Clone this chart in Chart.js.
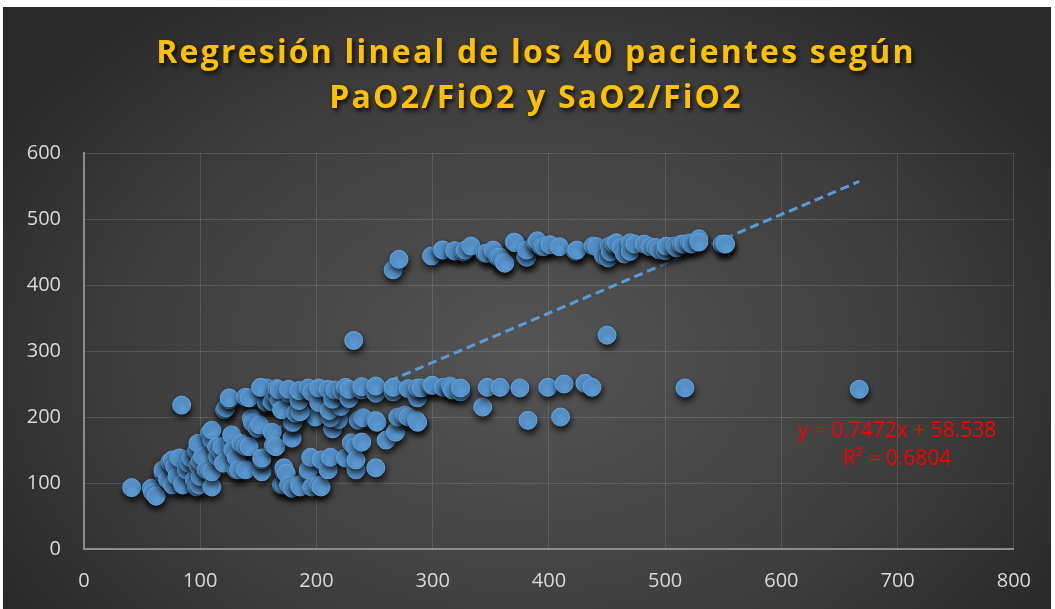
<!DOCTYPE html>
<html>
<head>
<meta charset="utf-8">
<script src="https://cdn.jsdelivr.net/npm/chart.js@4"></script>
<style>
  html, body { margin: 0; padding: 0; background: #ffffff; }
  body { width: 1055px; height: 609px; position: relative; overflow: hidden; }
  #frame {
    position: absolute; left: 3px; top: 7px; width: 1048px; height: 602px;
    background: radial-gradient(ellipse 60% 75% at 50% 58%, #545454 0%, #414141 55%, #292929 100%);
  }
  #chart { position: absolute; left: 0; top: 0; }
  #title {
    position: absolute; left: 0; top: 21px; width: 1048px; text-align: center;
    font-family: "Open Sans", sans-serif; font-weight: 700; font-size: 32px;
    line-height: 45px; letter-spacing: 2.2px; color: #FFC000; padding-left: 18px; box-sizing: border-box;
    text-shadow: 2px 3px 4px rgba(0,0,0,0.75);
  }
  .eq {
    position: absolute; width: 300px; text-align: center; color: #FF0000;
    font-family: "Open Sans", sans-serif; font-size: 21px; line-height: 28px;
  }
</style>
</head>
<body>
<div id="frame">
  <canvas id="chart" width="1048" height="602"></canvas>
  <div id="title">Regresión lineal de los 40 pacientes según<br>PaO2/FiO2 y SaO2/FiO2</div>
  <div class="eq" style="left:744px; top:408px;">y = 0.7472x + 58.538</div>
  <div class="eq" style="left:744px; top:436px;">R² = 0.6804</div>
</div>
<script>
// ---- data ----
const lowGroup = [
  [41,93],[58,92],[59,86],[62,80],[68,115],[68,120],[72,105],[74,132],[76,135],[76,97],[78,125],[80,110],
  [82,138],[85,100],[85,97],[88,120],[90,130],[92,138],[95,105],[97,94],[97,147],[97,150],[98,127],[98,160],
  [99,97],[100,110],[100,133],[102,140],[105,120],[108,117],[108,176],[110,94],[110,117],[110,165],[110,180],
  [114,155],[115,140],[118,148],[119,155],[120,130],[127,161],[127,173],[128,150],[131,120],[131,139],[133,120],
  [135,160],[139,120],[139,155],[142,155],[144,198],[145,191],[149,183],[151,188],[153,117],[153,135],[153,138],
  [162,177],[163,157],[165,155],[170,97],[172,97],[172,117],[172,123],[174,115],[176,97],[179,92],[179,168],
  [179,191],[180,192],[185,97],[186,94],[193,117],[193,120],[195,139],[196,94],[199,200],[202,97],[204,94],
  [204,135],[210,120],[212,139],[214,182],[219,196],[212,199],[225,138],[230,161],[233,155],[234,120],[234,135],
  [236,195],[240,199],[239,162],[251,123],[251,195],[252,192],[260,165],[268,177],[270,200],[276,203],[279,200],
  [286,195],[287,192],[382,195],[410,200]
];
const midGroup = [
  [84,218],[121,211],[122,214],[125,226],[125,229],[139,230],[142,229],[157,221],[157,223],[160,226],[157,244],
  [152,245],[162,223],[165,233],[166,243],[168,226],[168,241],[170,211],[176,236],[176,242],[182,206],[186,208],
  [185,225],[185,240],[193,244],[196,238],[202,222],[202,244],[210,242],[211,210],[221,216],[214,227],[216,241],
  [222,239],[225,245],[228,228],[228,242],[232,316],[239,241],[239,246],[251,236],[251,247],[266,238],[266,245],
  [279,243],[287,229],[287,244],[290,244],[299,248],[300,248],[309,245],[315,247],[316,244],[317,241],[324,238],
  [324,244],[343,215],[347,245],[358,245],[375,244],[399,245],[413,250],[431,251],[437,245],[450,324],[517,244],
  [667,242]
];
const highGroup = [
  [266,423],[271,439],[299,444],[308,453],[309,453],[319,451],[319,452],[327,450],[328,453],[333,459],[345,448],
  [347,448],[352,453],[356,442],[358,442],[361,435],[362,433],[370,465],[371,464],[380,443],[381,442],[381,453],
  [389,464],[390,467],[394,458],[396,458],[401,461],[409,458],[423,451],[424,453],[438,459],[441,458],[447,444],
  [451,441],[452,459],[453,450],[456,462],[458,464],[462,457],[465,447],[470,464],[470,451],[474,462],[482,462],
  [487,458],[492,457],[495,453],[500,452],[501,459],[508,459],[510,456],[514,462],[516,462],[521,464],[523,462],
  [529,470],[529,465],[549,462],[551,462],[552,462]
];
const trendX = [41, 667];
const trendY = [89.2, 556.9];
const xTicks = [0, 100, 200, 300, 400, 500, 600, 700, 800];
const yTicks = [0, 100, 200, 300, 400, 500, 600];

const allPoints = lowGroup.concat(midGroup, highGroup).map(p => ({ x: p[0], y: p[1] }));
const trendPoints = trendX.map((x, i) => ({ x: x, y: trendY[i] }));

const shadowPlugin = {
  id: 'pointShadow',
  beforeDatasetDraw(chart, args) {
    if (args.index === 1) {
      const c = chart.ctx;
      c.save();
      c.shadowColor = 'rgba(0,0,0,0.75)';
      c.shadowBlur = 6;
      c.shadowOffsetX = 1;
      c.shadowOffsetY = 4;
    }
  },
  afterDatasetDraw(chart, args) {
    if (args.index === 1) chart.ctx.restore();
  }
};

new Chart(document.getElementById('chart'), {
  type: 'scatter',
  data: {
    datasets: [
      {
        type: 'line',
        data: trendPoints,
        borderColor: '#5B9BD5',
        borderWidth: 3,
        borderDash: [9, 5],
        pointRadius: 0,
        fill: false,
        order: 2
      },
      {
        data: allPoints,
        backgroundColor: '#5B9BD5',
        borderColor: '#64A3DD',
        borderWidth: 1,
        pointRadius: 9,
        order: 1
      }
    ]
  },
  options: {
    responsive: false,
    devicePixelRatio: 1,
    animation: false,
    layout: { padding: { top: 146, right: 32, left: 0, bottom: 0 } },
    plugins: { legend: { display: false }, tooltip: { enabled: false }, title: { display: false } },
    scales: {
      x: {
        type: 'linear', min: 0, max: 800,
        afterFit(s) { s.height = 60; },
        afterBuildTicks(s) { s.ticks = xTicks.map(v => ({ value: v })); },
        grid: { color: 'rgba(255,255,255,0.13)', lineWidth: 1, drawTicks: false },
        border: { color: '#8C8C8C', width: 2 },
        ticks: { color: '#D9D9D9', padding: 20, font: { family: 'Open Sans', size: 20 }, maxRotation: 0 }
      },
      y: {
        type: 'linear', min: 0, max: 600,
        afterFit(s) { s.width = 81; },
        afterBuildTicks(s) { s.ticks = yTicks.map(v => ({ value: v })); },
        grid: { color: 'rgba(255,255,255,0.13)', lineWidth: 1, drawTicks: false },
        border: { color: '#8C8C8C', width: 2 },
        ticks: { color: '#D9D9D9', padding: 23, font: { family: 'Open Sans', size: 20 } }
      }
    }
  },
  plugins: [shadowPlugin]
});
</script>
</body>
</html>
